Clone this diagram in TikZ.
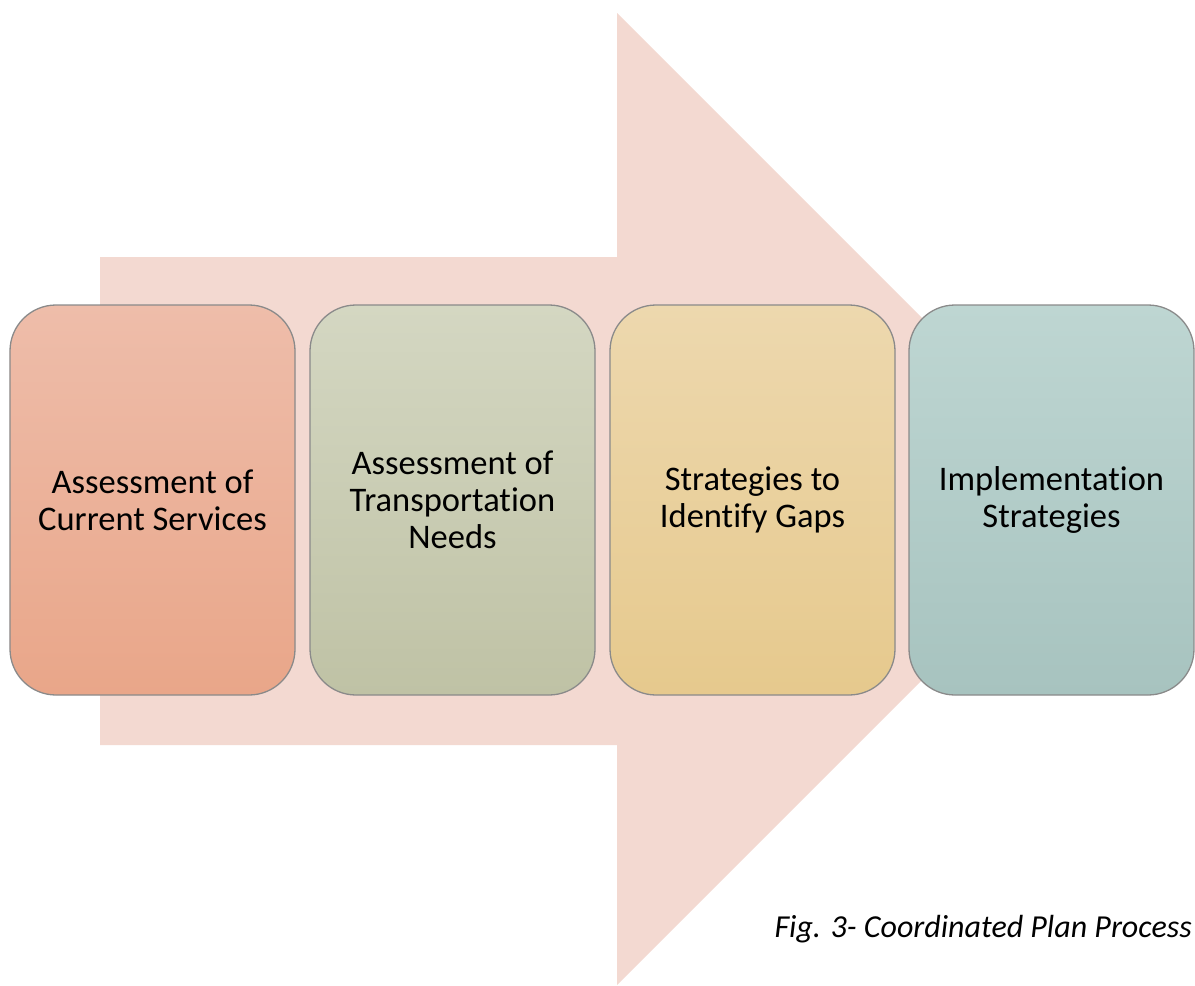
\documentclass[tikz,border=0pt]{standalone}
\usepackage{fontspec}
\setmainfont[Ligatures={NoCommon}]{Carlito}
\definecolor{arrowfill}{HTML}{F3D9D1}
\definecolor{edgegray}{HTML}{8A8A8A}
\definecolor{aTop}{HTML}{EEBDAA}
\definecolor{aBot}{HTML}{E9A689}
\definecolor{bTop}{HTML}{D4D7C2}
\definecolor{bBot}{HTML}{BFC2A5}
\definecolor{cTop}{HTML}{EDD8AE}
\definecolor{cBot}{HTML}{E6C98D}
\definecolor{dTop}{HTML}{BED6D2}
\definecolor{dBot}{HTML}{A7C3BF}
\tikzset{
  stepbox/.style={rounded corners=46bp, draw=edgegray, line width=1.3bp,
    minimum width=285bp, minimum height=390bp, align=center,
    font=\fontsize{34.5bp}{37bp}\selectfont, text=black, inner sep=0pt},
}
\begin{document}
\begin{tikzpicture}[x=1bp,y=-1bp]
\useasboundingbox (0,0) rectangle (1195,986);
\clip (0,0) rectangle (1195,986);
% big arrow
\fill[arrowfill] (100,257) -- (617,257) -- (617,13) -- (1103,499) -- (617,985) -- (617,745) -- (100,745) -- cycle;
% boxes
\node[stepbox, top color=aTop, bottom color=aBot] (s1) at (152.5,500) {Assessment of\\Current Services};
\node[stepbox, top color=bTop, bottom color=bBot] (s2) at (452.5,500) {Assessment of\\Transportation\\Needs};
\node[stepbox, top color=cTop, bottom color=cBot] (s3) at (752.5,500) {Strategies to\\Identify Gaps};
\node[stepbox, top color=dTop, bottom color=dBot] (s4) at (1051.5,500) {Implementation\\Strategies};
% caption
\node[anchor=base east, inner sep=0pt, font=\fontsize{32bp}{36bp}\selectfont\itshape] (cap) at (1192,937) {Fig. 3- Coordinated Plan Process};
\end{tikzpicture}
\end{document}
